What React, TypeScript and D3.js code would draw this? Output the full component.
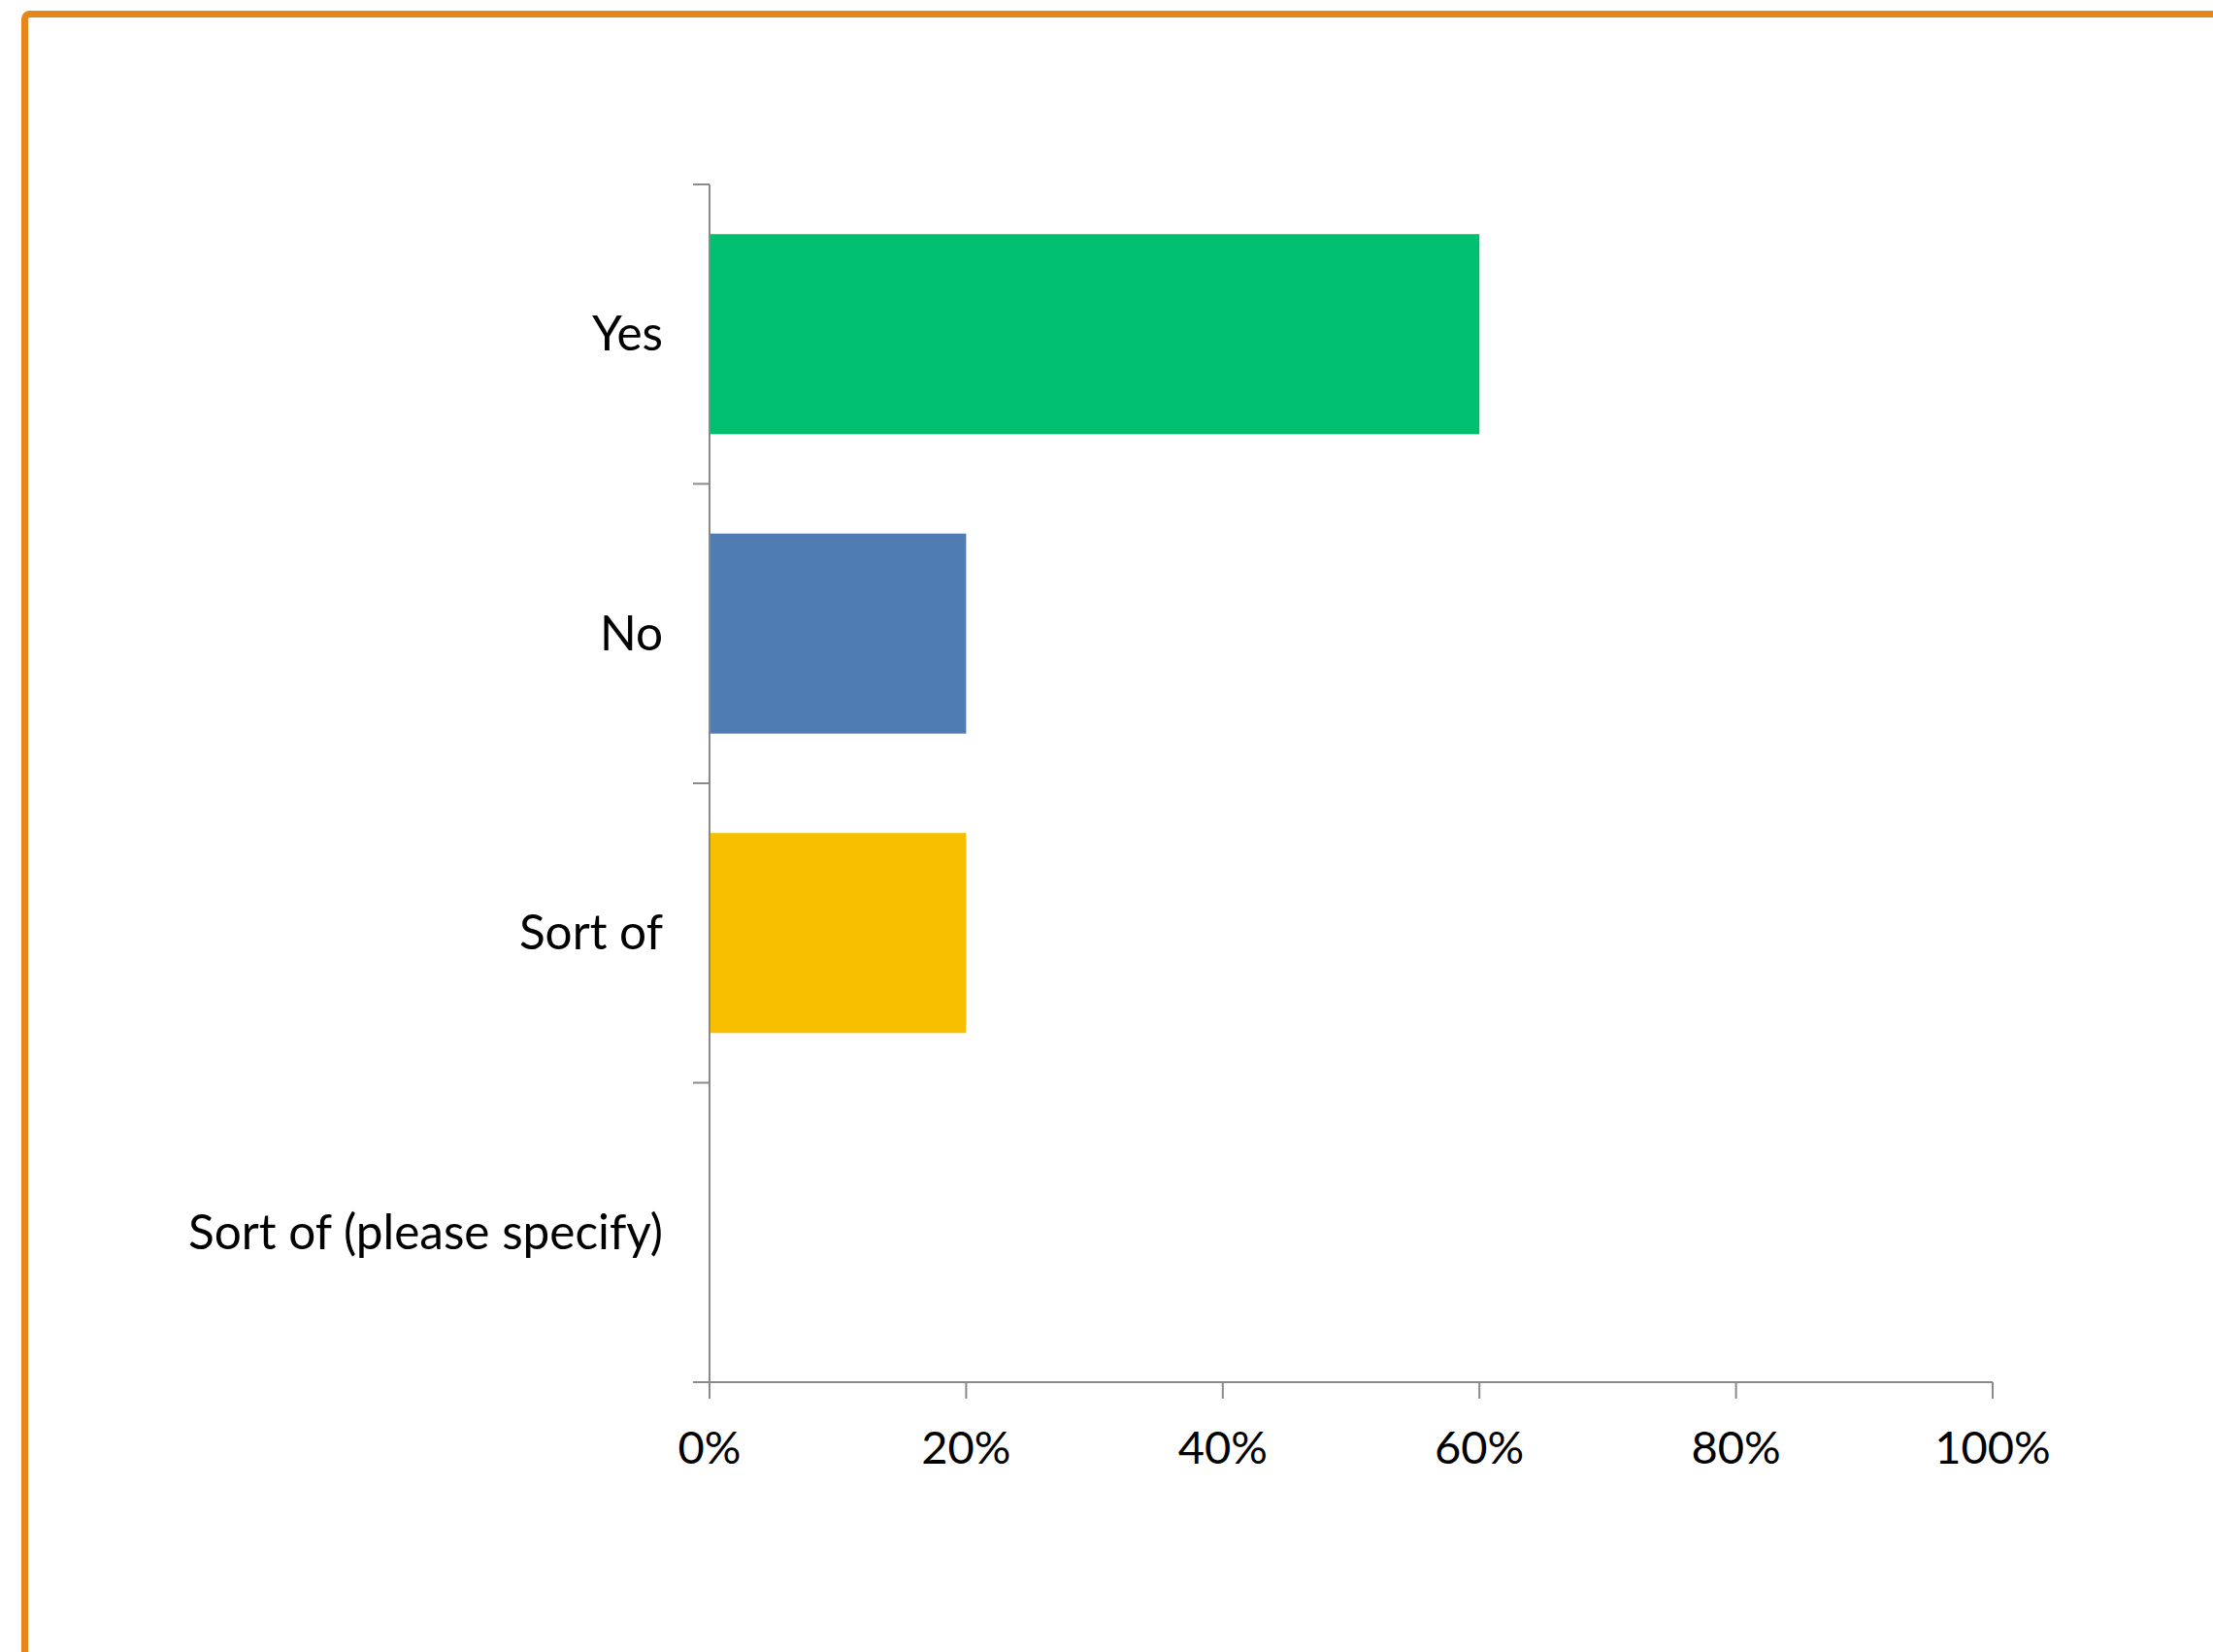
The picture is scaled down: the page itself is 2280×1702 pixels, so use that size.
import React from "react";
import * as d3 from "d3";

const categories = ["Yes", "No", "Sort of", "Sort of (please specify)"];
const values = [0.6, 0.2, 0.2, 0];
const barColors = ["#00BF6F", "#507CB4", "#F7BF00", "#A0A0A0"];
const tickValues = [0, 0.2, 0.4, 0.6, 0.8, 1.0];

const W = 2280;
const H = 1702;
const FONT = "Lato, 'Open Sans', sans-serif";

export default function App() {
  const x = d3.scaleLinear().domain([0, 1]).range([731, 2053]);
  const y = d3.scaleBand<string>().domain(categories).range([190, 1424]).paddingInner(0.332).paddingOuter(0.166);
  const axisColor = "#8a8a8a";
  const tickLen = 17;
  const bandStep = (1424 - 190) / categories.length;
  const boundaries = d3.range(categories.length + 1).map((i) => 190 + i * bandStep);
  return (
    <svg width={W} height={H} style={{ position: "absolute", left: 0, top: 0, background: "#fff" }}>
      <rect x={25.5} y={14.5} width={W} height={H} rx={5} fill="none" stroke="#E6851A" strokeWidth={7} />
      {categories.map((c, i) => (
        <rect key={c} x={x(0) + 1} y={y(c)!} width={Math.max(0, x(values[i]) - x(0) - 1)} height={y.bandwidth()} fill={barColors[i]} />
      ))}
      <line x1={x(0)} x2={x(0)} y1={boundaries[0]} y2={1424 + tickLen} stroke={axisColor} strokeWidth={2} />
      {boundaries.map((b, i) => (
        <line key={i} x1={x(0) - tickLen} x2={x(0)} y1={b} y2={b} stroke={axisColor} strokeWidth={2} />
      ))}
      <line x1={x(0) - tickLen} x2={x(1)} y1={1424} y2={1424} stroke={axisColor} strokeWidth={2} />
      {tickValues.map((t) => (
        <g key={t}>
          <line x1={x(t)} x2={x(t)} y1={1424} y2={1424 + tickLen} stroke={axisColor} strokeWidth={2} />
          <text x={x(t)} y={1508} textAnchor="middle" fontFamily={FONT} fontSize={47} fill="#000">
            {d3.format(".0%")(t)}
          </text>
        </g>
      ))}
      {categories.map((c) => (
        <text key={c} x={683} y={y(c)! + y.bandwidth() / 2 + 17} textAnchor="end" fontFamily={FONT} fontSize={49.5} fill="#000">
          {c}
        </text>
      ))}
    </svg>
  );
}
